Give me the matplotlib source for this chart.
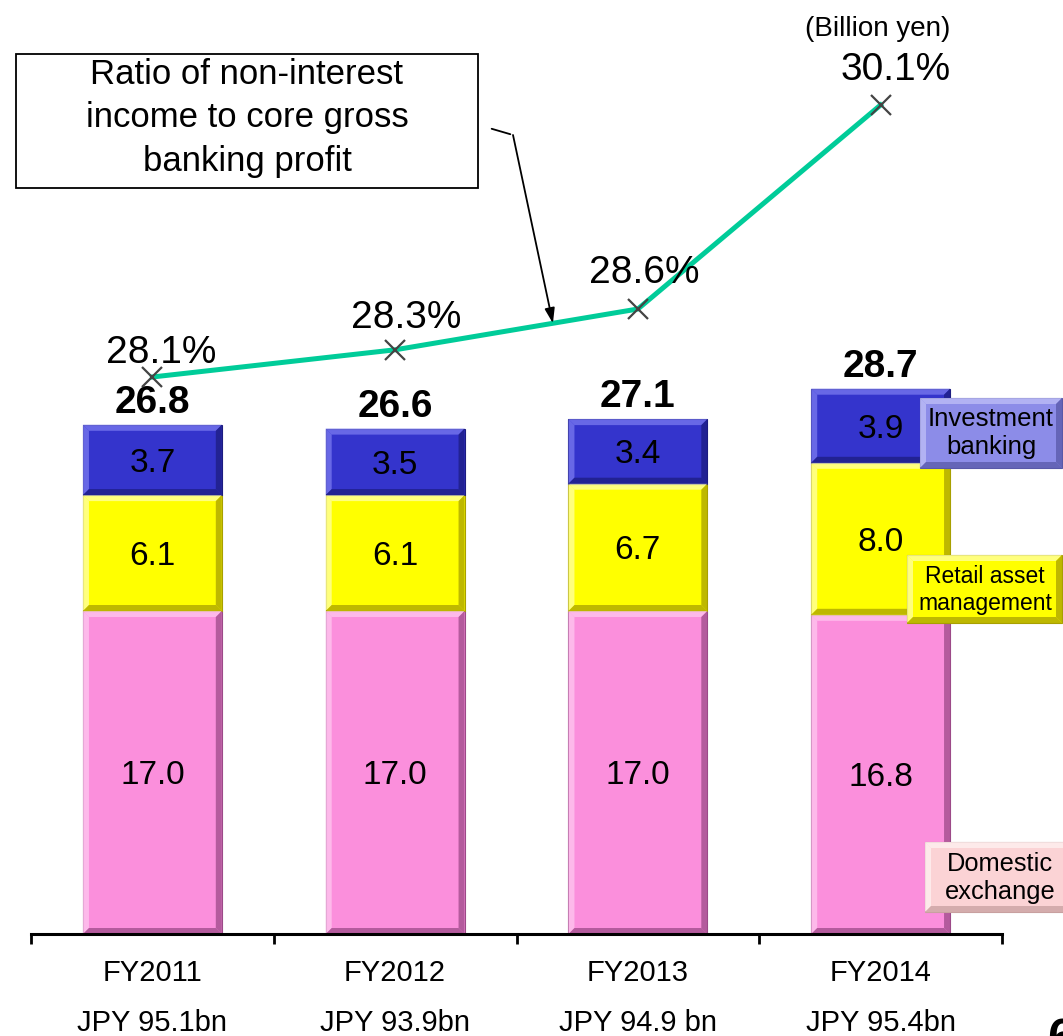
import numpy as np
import matplotlib
matplotlib.use("Agg")
import matplotlib.pyplot as plt
from matplotlib import transforms as mtransforms
from matplotlib.patches import Polygon, Rectangle

plt.rcParams["font.family"] = ["Liberation Sans", "DejaVu Sans"]

years = ["FY2011", "FY2012", "FY2013", "FY2014"]
core_gross = ["JPY 95.1bn", "JPY 93.9bn", "JPY 94.9 bn", "JPY 95.4bn"]
domestic_exchange = [17.0, 17.0, 17.0, 16.8]
retail_asset_mgmt = [6.1, 6.1, 6.7, 8.0]
investment_banking = [3.7, 3.5, 3.4, 3.9]
non_interest_ratio = [28.1, 28.3, 28.6, 30.1]

W, H = 1063, 1036
fig = plt.figure(figsize=(W / 100, H / 100), dpi=100)
# pixel coordinates with the origin at the top-left corner of the figure
px = mtransforms.Affine2D().scale(1 / W, -1 / H).translate(0, 1) + fig.transFigure

ax = fig.add_axes([31 / W, (H - 934) / H, 971 / W, 934 / H])
ax.set_xlim(-0.5, 3.5)
ax.set_ylim(0, 934 / 19)
ax2 = ax.twinx()
ax2.set_ylim(28.1 - (934 - 377) / 136, 30.1 + 105 / 136)

for a in (ax, ax2):
    for side in ("top", "left", "right"):
        a.spines[side].set_visible(False)
    a.set_yticks([])
ax2.spines["bottom"].set_visible(False)
ax.spines["bottom"].set_linewidth(2.2)
ax.set_xticks(range(len(years)))
ax.set_xticklabels([])
ax.tick_params(axis="x", which="major", length=0)
ax.set_xticks(np.arange(-0.5, len(years), 1.0), minor=True)
ax.tick_params(axis="x", which="minor", length=7, width=2, direction="out")


def bevel(artist_host, left, right, bottom, top, face, light, dark, bx, by, transform, zorder):
    sy = 1 if top > bottom else -1
    iy = by * sy
    host_add = artist_host.add_artist
    host_add(Rectangle((left, min(bottom, top)), right - left, abs(top - bottom),
                       facecolor=face, edgecolor=dark, lw=0.8,
                       transform=transform, zorder=zorder))
    pieces = [
        ([(left, top), (right, top), (right - bx, top - iy), (left + bx, top - iy)], light),
        ([(left, bottom), (left, top), (left + bx, top - iy), (left + bx, bottom + iy)], light),
        ([(right, bottom), (right, top), (right - bx, top - iy), (right - bx, bottom + iy)], dark),
        ([(left, bottom), (right, bottom), (right - bx, bottom + iy), (left + bx, bottom + iy)], dark),
    ]
    for pts, col in pieces:
        host_add(Polygon(pts, closed=True, facecolor=col, edgecolor="none", alpha=0.75,
                         transform=transform, zorder=zorder + 0.01))


# bevel width of 6 px expressed in data units
p0 = ax.transData.transform((0, 0))
p1 = ax.transData.transform((1, 1))
bev_x = 6 / (p1[0] - p0[0])
bev_y = 6 / (p1[1] - p0[1])

x = np.arange(len(years))
width = 0.572
segments = [
    (domestic_exchange, "#fb8fdc", "#ffc8f0", "#9c4a88"),
    (retail_asset_mgmt, "#ffff00", "#ffffa8", "#a8a000"),
    (investment_banking, "#3434cc", "#7a7af0", "#1c1c80"),
]
bottom = np.zeros(len(years))
for vals, face, light, dark in segments:
    bars = ax.bar(x, vals, width=width, bottom=bottom, color="none", edgecolor="none")
    for bar, v in zip(bars, vals):
        l, b = bar.get_x(), bar.get_y()
        bevel(ax, l, l + bar.get_width(), b, b + bar.get_height(), face, light, dark,
              bev_x, bev_y, ax.transData, 2)
        ax.text(bar.get_x() + bar.get_width() / 2, b + bar.get_height() / 2, f"{v:.1f}",
                ha="center", va="center_baseline", fontsize=24, zorder=4)
    bottom = bottom + np.array(vals)

for i, tot in enumerate(bottom):
    ax.annotate(f"{tot:.1f}", xy=(i, tot), xytext=(0, 12), textcoords="offset pixels",
                ha="center", va="baseline", fontsize=28, fontweight="bold")

for i, (fy, jpy) in enumerate(zip(years, core_gross)):
    ax.annotate(fy, xy=(i, 0), xycoords=("data", "axes fraction"), xytext=(0, -47),
                textcoords="offset pixels", ha="center", va="baseline", fontsize=21)
    ax.annotate(jpy, xy=(i, 0), xycoords=("data", "axes fraction"), xytext=(0, -97),
                textcoords="offset pixels", ha="center", va="baseline", fontsize=21)

# non-interest income ratio line
ax2.plot(x, non_interest_ratio, color="#00cc99", lw=3.6, zorder=3)
ax2.plot(x, non_interest_ratio, ls="none", marker="x", ms=14, mew=1.6, color="#444444", zorder=4)
label_shift = [(9, 14), (11, 22), (6, 26), (15, 25)]
for i, (r, (dx, dy)) in enumerate(zip(non_interest_ratio, label_shift)):
    ax2.annotate(f"{r:.1f}%", xy=(i, r), xytext=(dx, dy), textcoords="offset pixels",
                 ha="center", va="baseline", fontsize=28)

# callout box with its pointer onto the ratio line
fig.add_artist(Rectangle((16, 54), 462, 134, facecolor="white", edgecolor="black",
                         lw=1.3, transform=px, zorder=5))
fig.text(247, 118, "Ratio of non-interest\nincome to core gross\nbanking profit",
         transform=px, ha="center", va="center", fontsize=25, linespacing=1.4, zorder=6)
tip_x = 1.65
tip_y = np.interp(tip_x, x, non_interest_ratio)
ax2.annotate("", xy=(513, H - 135), xycoords="figure pixels",
             xytext=(489, H - 128), textcoords="figure pixels",
             arrowprops=dict(arrowstyle="-", color="black", lw=1.3))
ax2.annotate("", xy=(tip_x, tip_y), xytext=(513, H - 135), textcoords="figure pixels",
             arrowprops=dict(arrowstyle="-|>,head_length=0.9,head_width=0.3",
                             color="black", lw=1.3, shrinkA=0, shrinkB=0))

# series tags on the right
tags = [
    ("Investment\nbanking", 920, 1062, 398, 468, 991, 433, 18.5, "#8c8ce8", "#c0c0f8", "#5858a8"),
    ("Retail asset\nmanagement", 907, 1062, 555, 623, 985, 590, 16.5, "#ffff00", "#ffffa8", "#a8a000"),
    ("Domestic\nexchange", 925, 1070, 842, 912, 1000, 878, 18.3, "#fbd3d5", "#fff2f2", "#c8a0a0"),
]
for text, l, r, t, b, cx, cy, fs, face, light, dark in tags:
    bevel(fig, l, r, b, t, face, light, dark, 6, 6, px, 5)
    fig.text(cx, cy, text, transform=px, ha="center", va="center", fontsize=fs,
             linespacing=1.2, zorder=6)

fig.text(878, 29, "(Billion yen)", transform=px, ha="center", va="center", fontsize=20)
fig.text(1047, 1054, "6", transform=px, ha="left", va="baseline", fontsize=36,
         fontweight="bold")

fig.savefig("out.png", dpi=100)
